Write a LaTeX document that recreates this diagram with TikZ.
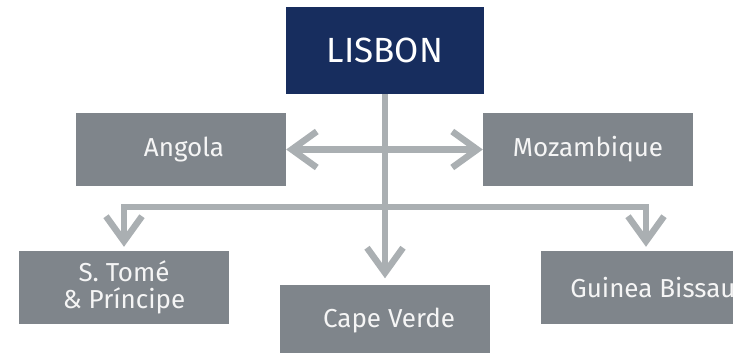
\documentclass[tikz,border=0pt]{standalone}
\usepackage{fontspec}
\setmainfont{Fira Sans}
\usetikzlibrary{arrows.meta}
\definecolor{navy}{RGB}{23,45,94}
\definecolor{boxgray}{RGB}{127,133,139}
\definecolor{linegray}{RGB}{170,175,178}
\tikzset{barb/.tip={Straight Barb[length=25pt,width=36pt]}}

\begin{document}
\begin{tikzpicture}[x=1pt,y=-1pt,
  capital/.style={fill=navy, text=white, minimum width=198pt, minimum height=87pt,
    inner sep=0pt, font=\fontsize{35}{36}\selectfont},
  city/.style={fill=boxgray, text=white!96!black, minimum width=210pt, minimum height=73pt,
    inner sep=0pt, align=center, font=\fontsize{26}{27}\selectfont},
  link/.style={draw=linegray, line width=6.5pt}]
\clip (0,0) rectangle (733,353);

% boxes
\node [capital] (lisbon) at (385,50.5) {LISBON};
\node [city] (angola) at (181,149.5) {\hspace{6pt}Angola};
\node [city] (mozamb) at (588,149.5) {Mozambique};
\node [city] (stome) at (124,287.5) {S.~Tomé\\\& Príncipe};
\node [city] (capeverde) at (385,321) {\hspace{8pt}Cape Verde};
\node [city] (guinea) at (646,287.5) {\hspace{14pt}Guinea Bissau};

\coordinate (split) at (385,207);

% arrows
\draw [link, barb-barb] (angola) -- (mozamb);
\draw [link, -barb, shorten >=6pt] (lisbon) -- (capeverde);
\draw [link, -barb, shorten >=4pt] (split) -| (stome);
\draw [link, -barb, shorten >=4pt] (split) -| (guinea);

\end{tikzpicture}
\end{document}
